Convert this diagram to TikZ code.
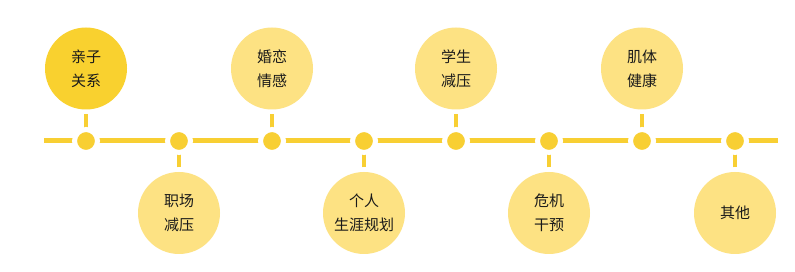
\documentclass[tikz,border=0pt]{standalone}
\usepackage{fontspec}
\setmainfont{Noto Sans CJK SC}
\definecolor{linegold}{HTML}{F8CF33}
\definecolor{topicdark}{HTML}{F9D12F}
\definecolor{topiclight}{HTML}{FDE283}
\definecolor{inkblack}{HTML}{1A1A1A}
\begin{document}
\begin{tikzpicture}[x=1pt, y=-1pt,
        topic/.style={circle, fill=topiclight, minimum size=82pt, inner sep=0pt, align=center, font=\fontsize{15pt}{24pt}\selectfont, text=inkblack},
        dot/.style={circle, fill=linegold, draw=white, line width=5pt, minimum size=23pt, inner sep=0pt},
        stub/.style={linegold, line width=4.5pt, shorten <=4.5pt, shorten >=2.5pt}
    ]
        \fill[white] (0,0) rectangle (795,272);

        % time line
        \coordinate (start) at (44,141);
        \coordinate (stop) at (778,141);
        \draw[linegold, line width=5pt] (start) -- (stop);

        % topics, alternating above and below
        \node[topic, fill=topicdark] (parent) at (86,68.5) {亲子\\关系};
        \node[topic] (work) at (179,213) {职场\\减压};
        \node[topic] (love) at (272,68.5) {婚恋\\情感};
        \node[topic] (career) at (364,213) {个人\\生涯规划};
        \node[topic] (student) at (456,68.5) {学生\\减压};
        \node[topic] (crisis) at (549,213) {危机\\干预};
        \node[topic] (body) at (642,68.5) {肌体\\健康};
        \node[topic] (other) at (735,213) {其他};

        \coordinate (d1) at (86,141);
        \coordinate (d2) at (179,141);
        \coordinate (d3) at (272,141);
        \coordinate (d4) at (364,141);
        \coordinate (d5) at (456,141);
        \coordinate (d6) at (549,141);
        \coordinate (d7) at (642,141);
        \coordinate (d8) at (735,141);

        \draw[stub] (parent) -- (d1);
        \draw[stub] (work) -- (d2);
        \draw[stub] (love) -- (d3);
        \draw[stub] (career) -- (d4);
        \draw[stub] (student) -- (d5);
        \draw[stub] (crisis) -- (d6);
        \draw[stub] (body) -- (d7);
        \draw[stub] (other) -- (d8);

        % dots on the line
        \node[dot] (dot1) at (d1) {};
        \node[dot] (dot2) at (d2) {};
        \node[dot] (dot3) at (d3) {};
        \node[dot] (dot4) at (d4) {};
        \node[dot] (dot5) at (d5) {};
        \node[dot] (dot6) at (d6) {};
        \node[dot] (dot7) at (d7) {};
        \node[dot] (dot8) at (d8) {};
    \end{tikzpicture}
\end{document}
